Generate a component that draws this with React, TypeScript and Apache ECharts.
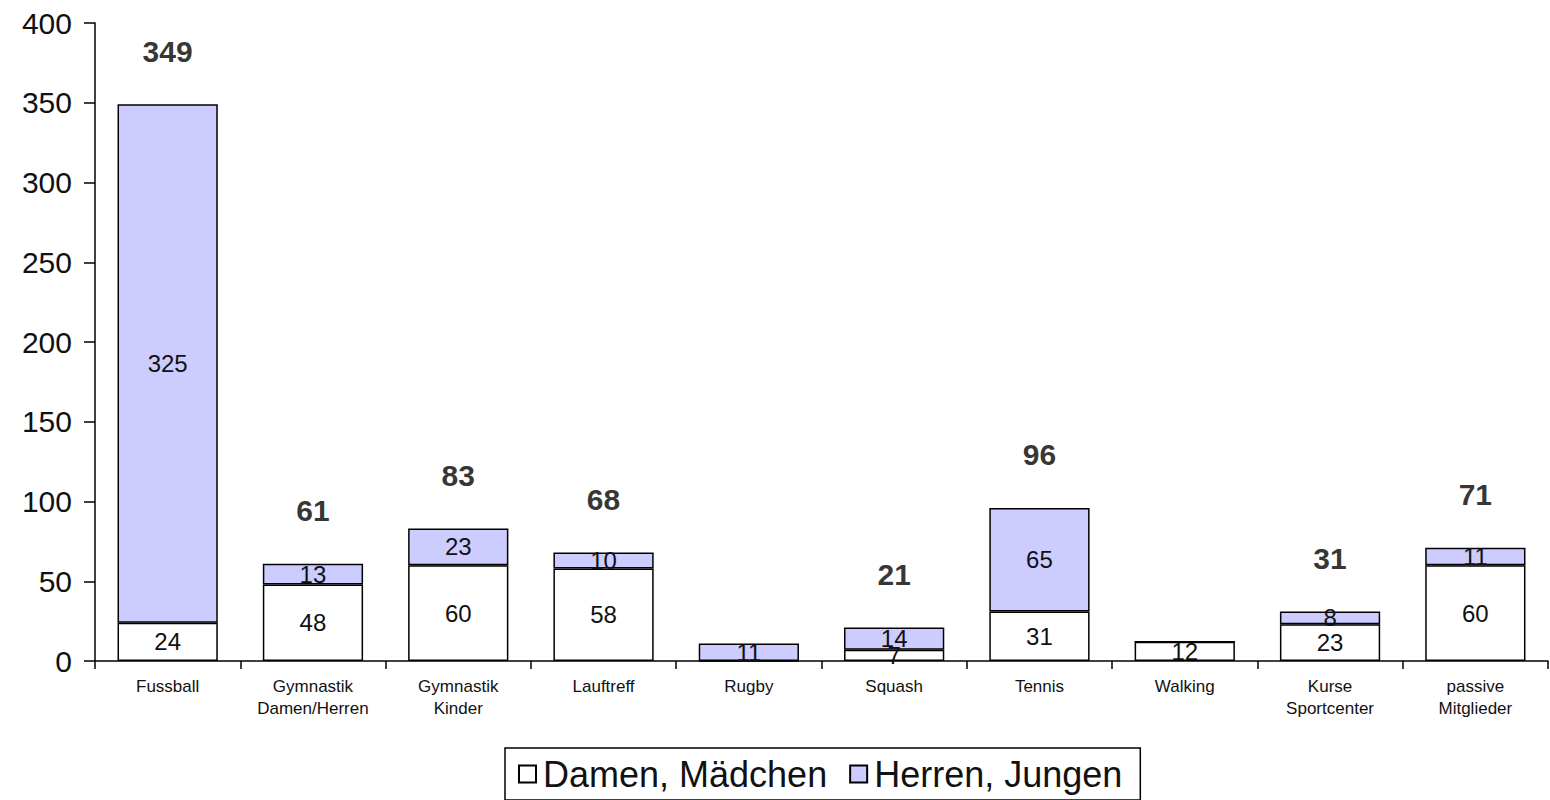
import React, { useEffect, useRef } from "react";
import * as echarts from "echarts";

const categories = [
  "Fussball",
  "Gymnastik\nDamen/Herren",
  "Gymnastik\nKinder",
  "Lauftreff",
  "Rugby",
  "Squash",
  "Tennis",
  "Walking",
  "Kurse\nSportcenter",
  "passive\nMitglieder",
];
const damen = [24, 48, 60, 58, 0, 7, 31, 12, 23, 60];
const herren = [325, 13, 23, 10, 11, 14, 65, 0, 8, 11];
const totals = [349, 61, 83, 68, 11, 21, 96, 12, 31, 71];
const showTotal = [true, true, true, true, false, true, true, false, true, true];
const seriesNames = ["Damen, Mädchen", "Herren, Jungen"];

const FONT = "'Liberation Sans', Arial, sans-serif";

export default function App() {
  const ref = useRef<HTMLDivElement>(null);
  useEffect(() => {
    document.body.style.margin = "0";
    const chart = echarts.init(ref.current!, null, { renderer: "svg" });
    const insideLabel = {
      show: true,
      position: "inside",
      fontFamily: FONT,
      fontSize: 24,
      color: "#111",
      formatter: (p: any) => (p.value ? String(p.value) : ""),
    };
    chart.setOption({
      animation: false,
      textStyle: { fontFamily: FONT },
      grid: { left: 95, right: 2, top: 23, bottom: 139 },
      legend: {
        data: seriesNames,
        left: 505,
        top: 748,
        orient: "horizontal",
        borderColor: "#000",
        borderWidth: 1.5,
        borderRadius: 0,
        padding: [8, 18, 8, 13],
        itemGap: 22,
        itemWidth: 17,
        itemHeight: 17,
        icon: "rect",
        textStyle: { fontFamily: FONT, fontSize: 36, color: "#111", padding: [0, 0, 0, 2] },
      },
      xAxis: {
        type: "category",
        data: categories,
        axisLine: { lineStyle: { color: "#000", width: 1.5 } },
        axisTick: { show: true, length: 8, lineStyle: { color: "#000", width: 1.5 } },
        axisLabel: {
          fontFamily: FONT,
          fontSize: 17,
          lineHeight: 22,
          color: "#111",
          margin: 14,
          interval: 0,
        },
      },
      yAxis: {
        type: "value",
        min: 0,
        max: 400,
        interval: 50,
        axisLine: { show: true, lineStyle: { color: "#000", width: 1.5 } },
        axisTick: { show: true, length: 11, lineStyle: { color: "#000", width: 1.5 } },
        splitLine: { show: false },
        axisLabel: { fontFamily: FONT, fontSize: 30, color: "#111", margin: 23 },
      },
      series: [
        {
          name: seriesNames[0],
          type: "bar",
          stack: "total",
          data: damen,
          barWidth: "69%",
          itemStyle: { color: "#ffffff", borderColor: "#000", borderWidth: 1.5 },
          label: insideLabel,
        },
        {
          name: seriesNames[1],
          type: "bar",
          stack: "total",
          data: herren,
          barWidth: "69%",
          itemStyle: { color: "#CCCCFF", borderColor: "#000", borderWidth: 1.5 },
          label: insideLabel,
        },
        {
          name: "Summe",
          type: "scatter",
          data: totals.map((t, i) => ({ value: t, label: { show: showTotal[i] } })),
          symbolSize: 0,
          silent: true,
          label: {
            show: true,
            position: "top",
            distance: 38,
            fontFamily: FONT,
            fontSize: 30,
            fontWeight: "bold",
            color: "#000",
            formatter: (p: any) => String(p.value),
          },
        },
      ],
    });
    return () => chart.dispose();
  }, []);
  return <div ref={ref} style={{ width: 1550, height: 800 }} />;
}
